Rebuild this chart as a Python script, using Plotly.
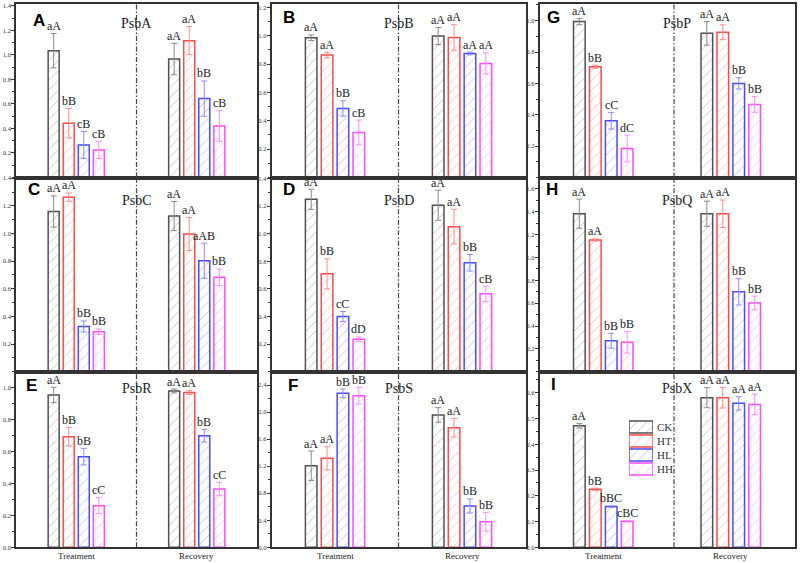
import plotly.graph_objects as go

categories = ["Treatment", "Recovery"]
series = ["CK", "HT", "HL", "HH"]

# ---- data (mean, error, significance letters) : [Treatment, Recovery]
psbA_mean = {"CK": [1.035, 0.967], "HT": [0.443, 1.117], "HL": [0.266, 0.644], "HH": [0.225, 0.421]}
psbA_err = {"CK": [0.14, 0.128], "HT": [0.12, 0.114], "HL": [0.11, 0.144], "HH": [0.07, 0.125]}
psbA_sig = {"CK": ["aA", "aA"], "HT": ["bB", "aA"], "HL": ["cB", "bB"], "HH": ["cB", "cB"]}

psbB_mean = {"CK": [0.986, 0.998], "HT": [0.864, 0.988], "HL": [0.487, 0.875], "HH": [0.318, 0.805]}
psbB_err = {"CK": [0.02, 0.06], "HT": [0.02, 0.09], "HL": [0.054, 0.01], "HH": [0.087, 0.075]}
psbB_sig = {"CK": ["aA", "aA"], "HT": ["aA", "aA"], "HL": ["bB", "aA"], "HH": ["cB", "aA"]}

psbP_mean = {"CK": [0.994, 0.919], "HT": [0.706, 0.926], "HL": [0.362, 0.600], "HH": [0.185, 0.466]}
psbP_err = {"CK": [0.02, 0.075], "HT": [0.01, 0.047], "HL": [0.053, 0.036], "HH": [0.085, 0.05]}
psbP_sig = {"CK": ["aA", "aA"], "HT": ["bB", "aA"], "HL": ["cC", "bB"], "HH": ["dC", "bB"]}

psbC_mean = {"CK": [1.159, 1.126], "HT": [1.263, 0.996], "HL": [0.327, 0.803], "HH": [0.289, 0.683]}
psbC_err = {"CK": [0.113, 0.105], "HT": [0.03, 0.12], "HL": [0.04, 0.127], "HH": [0.02, 0.06]}
psbC_sig = {"CK": ["aA", "aA"], "HT": ["aA", "aA"], "HL": ["bB", "aAB"], "HH": ["bB", "bB"]}

psbD_mean = {"CK": [1.249, 1.206], "HT": [0.709, 1.051], "HL": [0.400, 0.789], "HH": [0.235, 0.564]}
psbD_err = {"CK": [0.073, 0.109], "HT": [0.109, 0.126], "HL": [0.036, 0.06], "HH": [0.017, 0.056]}
psbD_sig = {"CK": ["aA", "aA"], "HT": ["bB", "aA"], "HL": ["cC", "bB"], "HH": ["dD", "cB"]}

psbQ_mean = {"CK": [1.383, 1.383], "HT": [1.153, 1.383], "HL": [0.271, 0.699], "HH": [0.257, 0.602]}
psbQ_err = {"CK": [0.127, 0.11], "HT": [0.01, 0.12], "HL": [0.065, 0.115], "HH": [0.094, 0.06]}
psbQ_sig = {"CK": ["aA", "aA"], "HT": ["aA", "aA"], "HL": ["bB", "bB"], "HH": ["bB", "bB"]}

psbR_mean = {"CK": [0.954, 0.979], "HT": [0.693, 0.969], "HL": [0.568, 0.699], "HH": [0.261, 0.365]}
psbR_err = {"CK": [0.048, 0.012], "HT": [0.058, 0.012], "HL": [0.052, 0.04], "HH": [0.05, 0.042]}
psbR_sig = {"CK": ["aA", "aA"], "HT": ["bB", "aA"], "HL": ["bB", "bB"], "HH": ["cC", "cC"]}

psbS_mean = {"CK": [1.207, 1.957], "HT": [1.316, 1.769], "HL": [2.277, 0.611], "HH": [2.242, 0.379]}
psbS_err = {"CK": [0.217, 0.108], "HT": [0.172, 0.138], "HL": [0.064, 0.104], "HH": [0.123, 0.138]}
psbS_sig = {"CK": ["aA", "aA"], "HT": ["aA", "aA"], "HL": ["bB", "bB"], "HH": ["bB", "bB"]}

psbX_mean = {"CK": [0.472, 0.581], "HT": [0.225, 0.581], "HL": [0.158, 0.559], "HH": [0.101, 0.555]}
psbX_err = {"CK": [0.009, 0.039], "HT": [0.005, 0.04], "HL": [0.003, 0.026], "HH": [0.003, 0.04]}
psbX_sig = {"CK": ["aA", "aA"], "HT": ["bB", "aA"], "HL": ["bBC", "aA"], "HH": ["cBC", "aA"]}

# ---- panel configuration (grid order, row by row)
panels = [
    ("A", "PsbA", psbA_mean, psbA_err, psbA_sig),
    ("B", "PsbB", psbB_mean, psbB_err, psbB_sig),
    ("G", "PsbP", psbP_mean, psbP_err, psbP_sig),
    ("C", "PsbC", psbC_mean, psbC_err, psbC_sig),
    ("D", "PsbD", psbD_mean, psbD_err, psbD_sig),
    ("H", "PsbQ", psbQ_mean, psbQ_err, psbQ_sig),
    ("E", "PsbR", psbR_mean, psbR_err, psbR_sig),
    ("F", "PsbS", psbS_mean, psbS_err, psbS_sig),
    ("I", "PsbX", psbX_mean, psbX_err, psbX_sig),
]
axis_cfg = [  # (y max, first tick, last tick, tick step, minor step)
    (1.416, 0.2, 1.4, 0.2, 0.1),
    (1.224, 0.2, 1.2, 0.2, 0.1),
    (1.106, 0.2, 1.0, 0.2, 0.1),
    (1.405, 0.2, 1.4, 0.2, 0.1),
    (1.407, 0.2, 1.4, 0.2, 0.1),
    (1.700, 0.2, 1.6, 0.2, 0.1),
    (1.100, 0.0, 1.0, 0.2, 0.1),
    (2.597, 0.0, 2.4, 0.4, 0.2),
    (0.682, 0.0, 0.6, 0.1, 0.05),
]
letter_pos = [(16, -5), (10.5, -2), (6.5, -2), (11, -1), (10.5, -1), (5.5, -1), (9, -2), (15.5, -2), (10.5, -1)]

W, H = 800, 563
col_px = [(16, 257), (271.5, 525.5), (539.5, 794.5)]
row_px = [(4, 177.5), (177.5, 371.7), (371.7, 547.3)]
divider = [0.5, 0.5, 0.555]
gene_dy = [20, 23, 17]

edge = {"CK": "#505050", "HT": "#ff4a4a", "HL": "#4a4aff", "HH": "#ff4aff"}
hatch = {"CK": "#808080", "HT": "#ff7a7a", "HL": "#7a7aff", "HH": "#ff7aff"}
errc = {"CK": "#8a8a8a", "HT": "#ff8c8c", "HL": "#8c8cff", "HH": "#ff8cff"}

serif = "Liberation Serif, Times New Roman, serif"
sans = "Liberation Sans, Arial, sans-serif"

fig = go.Figure()
layout = dict(
    width=W, height=H, margin=dict(l=0, r=0, t=0, b=0),
    paper_bgcolor="white", plot_bgcolor="white",
    showlegend=False, barmode="group", bargap=0.5, bargroupgap=0.27,
)
annotations = []
shapes = []

for k, (letter, gene, mean, err, sig) in enumerate(panels):
    r, c = divmod(k, 3)
    n = k + 1
    key = "" if n == 1 else str(n)
    xa, ya = "x" + key, "y" + key
    xd = [col_px[c][0] / W, col_px[c][1] / W]
    yd = [1 - row_px[r][1] / H, 1 - row_px[r][0] / H]
    ymax, t0, t1, step, mstep = axis_cfg[k]
    nt = int(round((t1 - t0) / step)) + 1
    tv = [round(t0 + i * step, 3) for i in range(nt)]
    tt = [f"{v:.1f}" for v in tv]

    for si, s in enumerate(series):
        fig.add_trace(go.Bar(
            x=categories, y=mean[s], xaxis=xa, yaxis=ya, name=s,
            marker=dict(color="white", line=dict(color=edge[s], width=1.5),
                        pattern=dict(shape="/", size=7, solidity=0.12,
                                     fgcolor=hatch[s], bgcolor="white")),
            error_y=dict(type="data", array=err[s], color=errc[s], thickness=1, width=3),
            showlegend=False,
        ))
        for ci in range(len(categories)):
            annotations.append(dict(
                xref=xa, yref=ya, x=ci + (si - 1.5) * 0.125, y=mean[s][ci] + err[s][ci],
                text=sig[s][ci], showarrow=False, yanchor="bottom", xanchor="center",
                font=dict(family=serif, size=12, color="#222"), yshift=-1.5,
            ))

    layout["xaxis" + key] = dict(
        domain=xd, anchor=ya, type="category", range=[-0.5, 1.5],
        showline=True, mirror=True, linecolor="#333", linewidth=1.5,
        showgrid=False, zeroline=False, ticks="", ticklen=0, automargin=False,
        showticklabels=False,
    )
    layout["yaxis" + key] = dict(
        domain=yd, anchor=xa, range=[0, ymax],
        showline=True, mirror=True, linecolor="#333", linewidth=1.5,
        showgrid=False, zeroline=False, automargin=False,
        tickvals=tv, ticktext=tt, ticks="outside", ticklen=3, tickwidth=1, tickcolor="#333",
        ticklabelstandoff=-1,
        tickfont=dict(family=serif, size=6.5, color="#333"),
        minor=dict(dtick=mstep, tick0=0, ticks="outside", ticklen=2, tickcolor="#333", tickwidth=1),
    )
    if r == 2:
        for ci, cat in enumerate(categories):
            annotations.append(dict(xref=xa, yref=f"{ya} domain", x=cat, y=0, yshift=-2,
                                    text=cat, showarrow=False, xanchor="center", yanchor="top",
                                    font=dict(family=serif, size=9, color="#222")))
    shapes.append(dict(type="line", xref=xa, yref=f"{ya} domain", x0=divider[c], x1=divider[c],
                       y0=0, y1=1, line=dict(color="#444", width=1.2, dash="5px,2px,1.5px,2px")))
    annotations.append(dict(xref=xa, yref=f"{ya} domain", x=divider[c], y=1, yshift=-gene_dy[r],
                            text=gene, showarrow=False, xanchor="center", yanchor="middle",
                            xshift=(3 if c == 2 else 0),
                            font=dict(family=serif, size=14, color="#222")))
    lx, ly = letter_pos[k]
    annotations.append(dict(xref=f"{xa} domain", yref=f"{ya} domain", x=0, y=1,
                            xshift=lx - 1, yshift=ly, text=f"<b>{letter}</b>", showarrow=False,
                            xanchor="left", yanchor="top",
                            font=dict(family=sans, size=17, color="black")))

# ---- legend drawn as hatched swatches in a small hidden subplot (inside panel I)
legend_swatch = [1, 1, 1, 1]
fig.add_trace(go.Bar(
    y=series, x=legend_swatch, orientation="h", xaxis="x10", yaxis="y10", width=0.84,
    marker=dict(color="white", line=dict(color=[edge[s] for s in series], width=1.5),
                pattern=dict(shape="/", size=7, solidity=0.12,
                             fgcolor=[hatch[s] for s in series], bgcolor="white")),
    showlegend=False, hoverinfo="skip",
))
layout["xaxis10"] = dict(domain=[629 / W, 653 / W], anchor="y10", range=[0, 1], visible=False, fixedrange=True)
layout["yaxis10"] = dict(domain=[1 - 476 / H, 1 - 420 / H], anchor="x10", type="category",
                         range=[3.5, -0.5], visible=False, fixedrange=True)
for s in series:
    annotations.append(dict(xref="paper", yref="y10", x=655 / W, y=s, text=s, showarrow=False,
                            xanchor="left", yanchor="middle",
                            font=dict(family=serif, size=11, color="#333")))

layout["annotations"] = annotations
layout["shapes"] = shapes
fig.update_layout(**layout)
fig.write_html("out.html", config={"displayModeBar": False},
               post_script="document.body.style.margin='0';document.body.style.overflow='hidden';")
